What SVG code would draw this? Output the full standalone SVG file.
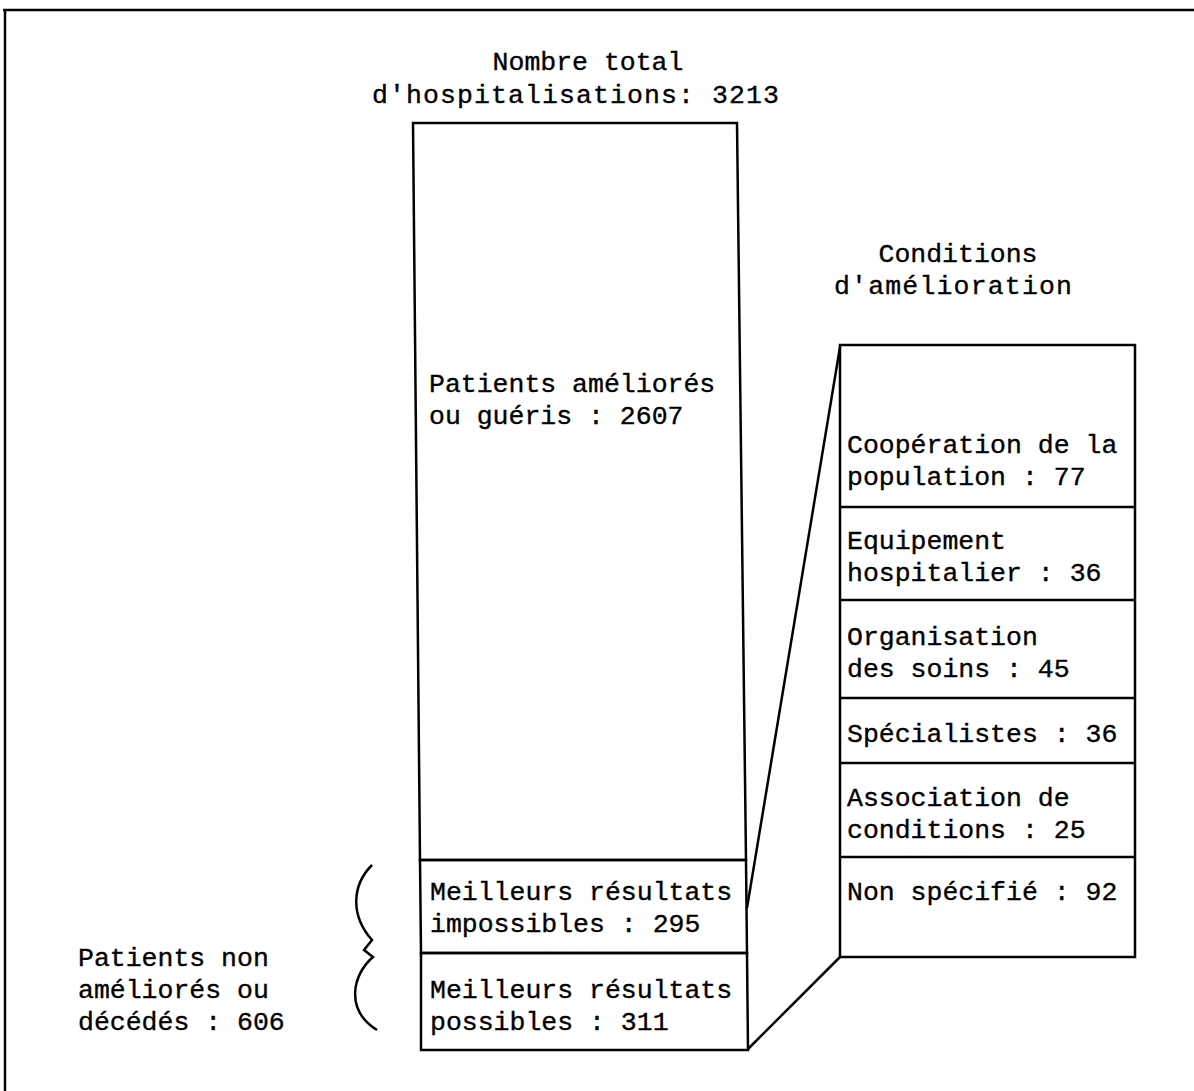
<svg xmlns="http://www.w3.org/2000/svg" width="1194" height="1091" viewBox="0 0 1194 1091">
<style>
.t{font-family:"Liberation Mono","DejaVu Sans Mono",monospace;font-size:26.5px;fill:#000;stroke:#000;stroke-width:0.35}
.b{fill:none;stroke:#000;stroke-width:2.5}
</style>
<rect width="1194" height="1091" fill="#fff"/>
<g id="frame">
<path class="b" d="M3,10 L1194,10" stroke-width="3"/>
<path class="b" d="M5,10 L5,1091"/>
</g>
<g id="title">
<text class="t" x="588" y="70" text-anchor="middle" font-size="28">Nombre total</text>
<text class="t" x="372" y="103" font-size="28" textLength="407" lengthAdjust="spacing">d'hospitalisations: 3213</text>
</g>
<g id="ameliores">
<path class="b" d="M413,123 L737,123 L746,860 L420,860 Z"/>
<text class="t" x="429" y="392">Patients améliorés</text>
<text class="t" x="429" y="424">ou guéris : 2607</text>
</g>
<g id="impossibles">
<path class="b" d="M420,860 L746,860 L747,953 L421,953 Z"/>
<text class="t" x="430" y="900">Meilleurs résultats</text>
<text class="t" x="430" y="932">impossibles : 295</text>
</g>
<g id="possibles">
<path class="b" d="M421,953 L747,953 L748,1050 L421,1050 Z"/>
<text class="t" x="430" y="998">Meilleurs résultats</text>
<text class="t" x="430" y="1030">possibles : 311</text>
</g>
<g id="non-ameliores">
<text class="t" x="78" y="966">Patients non</text>
<text class="t" x="78" y="998">améliorés ou</text>
<text class="t" x="78" y="1030">décédés : 606</text>
<path class="b" d="M372,865 C352,885 350,915 372,940 L364,950 L373,957 C352,975 345,1010 377,1030"/>
</g>
<g id="conditions-title">
<text class="t" x="958" y="262" text-anchor="middle">Conditions</text>
<text class="t" x="834" y="294" textLength="238" lengthAdjust="spacing">d'amélioration</text>
</g>
<g id="conditions">
<rect class="b" x="840" y="345" width="295" height="612"/>
<path class="b" d="M840,507 L1135,507 M840,600 L1135,600 M840,698 L1135,698 M840,763 L1135,763 M840,857 L1135,857"/>
<text class="t" x="847" y="453">Coopération de la</text>
<text class="t" x="847" y="485">population : 77</text>
<text class="t" x="847" y="549">Equipement</text>
<text class="t" x="847" y="581">hospitalier : 36</text>
<text class="t" x="847" y="645">Organisation</text>
<text class="t" x="847" y="677">des soins : 45</text>
<text class="t" x="847" y="742">Spécialistes : 36</text>
<text class="t" x="847" y="806">Association de</text>
<text class="t" x="847" y="838">conditions : 25</text>
<text class="t" x="847" y="900">Non spécifié : 92</text>
</g>
<g id="connectors">
<path class="b" d="M747,908 L840,347"/>
<path class="b" d="M748,1049 L840,957"/>
</g>
</svg>
